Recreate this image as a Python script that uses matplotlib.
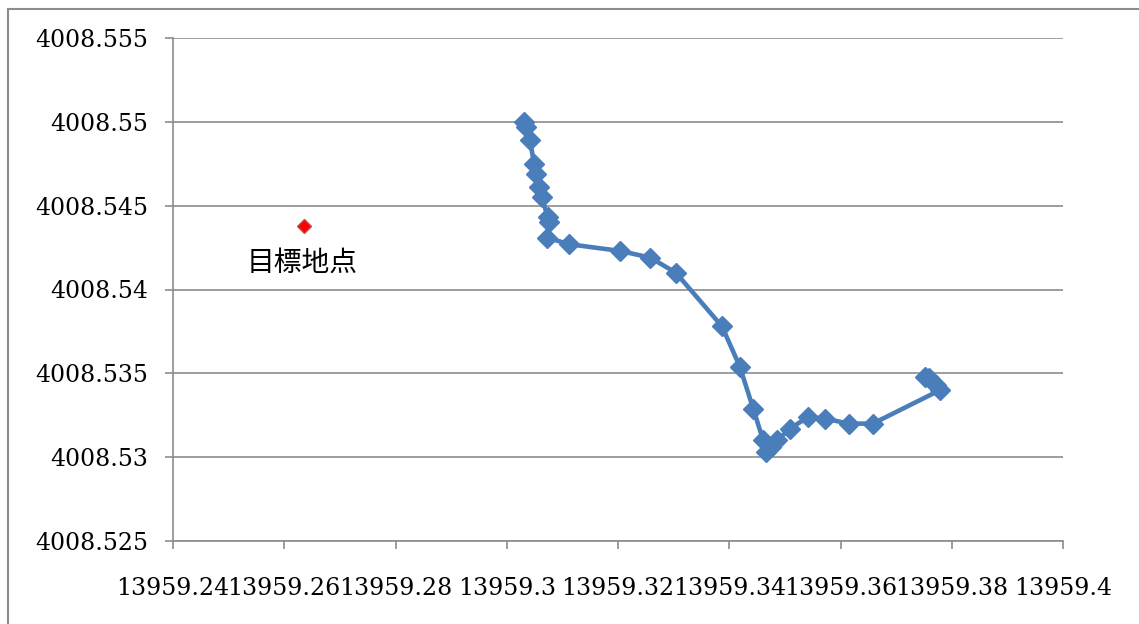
import matplotlib
matplotlib.use("Agg")
import matplotlib.pyplot as plt
from matplotlib.patches import Rectangle

# recorded track (x, y)
track_x = [13959.3031, 13959.3035, 13959.3042, 13959.3049, 13959.3053, 13959.3058,
           13959.3063, 13959.3074, 13959.3076, 13959.3072, 13959.3112, 13959.3204,
           13959.3258, 13959.3304, 13959.3387, 13959.3419, 13959.3443, 13959.3461,
           13959.3466, 13959.3475, 13959.3486, 13959.3509, 13959.3542, 13959.3572,
           13959.3615, 13959.3658, 13959.3779, 13959.3772, 13959.3759, 13959.3752]
track_y = [4008.5500, 4008.5497, 4008.5489, 4008.5475, 4008.5469, 4008.5461,
           4008.5455, 4008.5443, 4008.5440, 4008.5431, 4008.5427, 4008.5423,
           4008.5419, 4008.5410, 4008.5378, 4008.5354, 4008.5329, 4008.5310,
           4008.5303, 4008.5306, 4008.5310, 4008.5317, 4008.5324, 4008.5323,
           4008.5320, 4008.5320, 4008.5340, 4008.5343, 4008.5347, 4008.5348]

# target point
target_x = [13959.2636]
target_y = [4008.5438]
target_label = "目標地点"

x_ticks = [13959.24, 13959.26, 13959.28, 13959.30, 13959.32, 13959.34, 13959.36, 13959.38, 13959.40]
y_ticks = [4008.525, 4008.530, 4008.535, 4008.540, 4008.545, 4008.550, 4008.555]


def general(v, nd):
    return f"{v:.{nd}f}".rstrip("0").rstrip(".")


grey = "#8c8c8c"
blue = "#4a7ebb"

fig = plt.figure(figsize=(11.39, 6.24), dpi=100)
# outer chart border (right/bottom cut off)
fig.patches.append(Rectangle((8 / 1139, -0.1), 1.2, (624 - 9) / 624 + 0.1,
                             transform=fig.transFigure, fill=False,
                             edgecolor=grey, linewidth=1.5))

ax = fig.add_axes([173 / 1139, 1 - 541 / 624, (1063 - 173) / 1139, (541 - 38) / 624])

ax.plot(track_x, track_y, color=blue, linewidth=3.3, marker="D", markersize=10,
        markerfacecolor=blue, markeredgecolor=blue, zorder=3)
ax.plot(target_x, target_y, linestyle="none", marker="D", markersize=7.5,
        markerfacecolor="#ff0000", markeredgecolor="#c0504d", zorder=3)
ax.text(target_x[0] - 0.0003, 4008.5416, target_label, ha="center", va="center",
        fontsize=20, family=["Noto Sans CJK JP", "DejaVu Sans"])

ax.set_xlim(x_ticks[0], x_ticks[-1])
ax.set_ylim(y_ticks[0], y_ticks[-1])
ax.set_xticks(x_ticks)
ax.set_yticks(y_ticks)
ax.set_xticklabels([general(v, 2) for v in x_ticks], family="DejaVu Serif", fontsize=17)
ax.set_yticklabels([general(v, 3) for v in y_ticks], family="DejaVu Serif", fontsize=17)

ax.grid(axis="y", color=grey, linewidth=1.2)
ax.set_axisbelow(True)
for s in ["top", "right"]:
    ax.spines[s].set_visible(False)
for s in ["left", "bottom"]:
    ax.spines[s].set_color(grey)
    ax.spines[s].set_linewidth(1.2)
ax.tick_params(axis="x", direction="out", length=6, width=1.2, color=grey, pad=20)
ax.tick_params(axis="y", direction="out", length=6, width=1.2, color=grey, pad=12)

plt.savefig("out.png", dpi=100)
